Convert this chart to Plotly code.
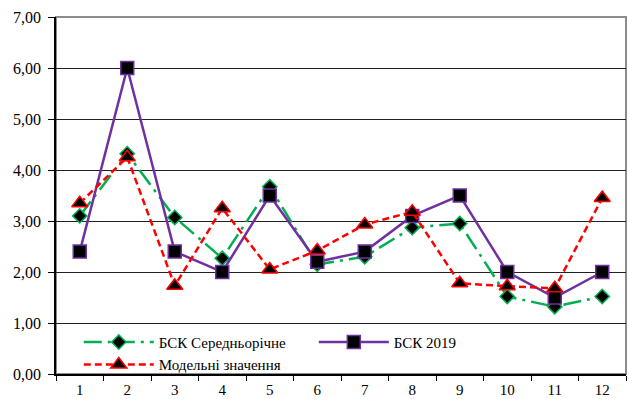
import plotly.graph_objects as go

months = ["1", "2", "3", "4", "5", "6", "7", "8", "9", "10", "11", "12"]
bsk_avg = [3.10, 4.32, 3.07, 2.27, 3.67, 2.15, 2.30, 2.87, 2.95, 1.52, 1.32, 1.52]
bsk_2019 = [2.40, 6.00, 2.40, 2.00, 3.50, 2.20, 2.40, 3.10, 3.50, 2.00, 1.50, 2.00]
model_vals = [3.35, 4.25, 1.73, 3.25, 2.05, 2.42, 2.93, 3.18, 1.78, 1.72, 1.68, 3.45]

GREEN = "#00B050"
PURPLE = "#7030A0"
RED = "#FF0000"
FONT = "Liberation Serif, Times New Roman, serif"

fig = go.Figure()
fig.add_trace(go.Scatter(
    x=months, y=bsk_avg, name="БСК Середньорічне", mode="lines+markers",
    line=dict(color=GREEN, width=2.5, dash="18px,6px,3px,6px"),
    marker=dict(symbol="diamond", size=11, color="black", line=dict(color=GREEN, width=1.5)),
))
fig.add_trace(go.Scatter(
    x=months, y=bsk_2019, name="БСК 2019", mode="lines+markers",
    line=dict(color=PURPLE, width=2.5),
    marker=dict(symbol="square", size=13, color="black", line=dict(color=PURPLE, width=1.5)),
))
fig.add_trace(go.Scatter(
    x=months, y=model_vals, name="Модельні значення", mode="lines+markers",
    line=dict(color=RED, width=2.5, dash="7px,4px"),
    marker=dict(symbol="triangle-up", size=14, color="black", line=dict(color=RED, width=1.5)),
))

# plot-area frame (top and right edges in grey)
fig.add_shape(type="rect", xref="paper", yref="paper", x0=0, x1=1, y0=0, y1=1,
              line=dict(color="#8c8c8c", width=2), layer="below")

fig.update_layout(
    width=629, height=399,
    margin=dict(l=56, r=3, t=17, b=25, autoexpand=False),
    paper_bgcolor="white", plot_bgcolor="white",
    separators=", ",
    font=dict(family=FONT, size=15, color="black"),
    showlegend=True,
    legend=dict(
        orientation="h", x=0.04, y=0.135, xanchor="left", yanchor="top",
        entrywidth=150, entrywidthmode="pixels",
        font=dict(family=FONT, size=15, color="black"),
        bgcolor="rgba(255,255,255,0)", tracegroupgap=0, itemwidth=70,
    ),
    xaxis=dict(
        type="category", range=[-0.5, 11.5], tickson="boundaries", ticks="outside",
        ticklen=5, tickcolor="black", showline=True, linecolor="black", linewidth=1.5,
        showgrid=False, tickfont=dict(family=FONT, size=15), ticklabelstandoff=1,
    ),
    yaxis=dict(
        range=[0, 7], dtick=1, tickformat=".2f", ticks="outside", ticklen=6,
        tickcolor="black", showline=True, linecolor="black", linewidth=1.5,
        showgrid=True, gridcolor="#222222", gridwidth=1, zeroline=False,
        tickfont=dict(family=FONT, size=16), ticklabelstandoff=4,
    ),
)

fig.write_html("out.html")
